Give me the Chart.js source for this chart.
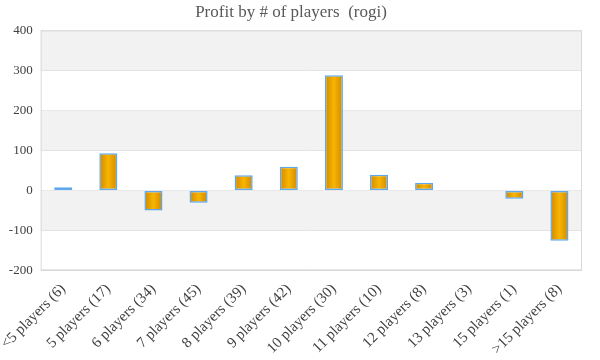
<!DOCTYPE html>
<html>
<head>
<meta charset="utf-8">
<script src="https://cdn.jsdelivr.net/npm/chart.js@4"></script>
<style>
  html, body { margin: 0; padding: 0; background: #fff; }
  #wrap { width: 600px; height: 360px; }
</style>
</head>
<body>
<div id="wrap"><canvas id="grafico" width="600" height="360"></canvas></div>
<script>
const categorias = ["<5 players (6)", "5 players (17)", "6 players (34)", "7 players (45)", "8 players (39)", "9 players (42)",
    "10 players (30)", "11 players (10)", "12 players (8)", "13 players (3)", "15 players (1)", ">15 players (8)"];
const lucro = [8, 93, -50, -31, 38, 59, 288, 39, 19, 1, -21, -126];
const ticksY = [-200, -100, 0, 100, 200, 300, 400];

const fonteSerif = "Georgia, 'Liberation Serif', 'DejaVu Serif', serif";

// faixas cinza alternadas no fundo do gráfico
const faixas = {
    id: 'faixas',
    beforeDatasetsDraw(chart) {
        const { ctx, chartArea, scales } = chart;
        ctx.save();
        ctx.fillStyle = '#f2f2f2';
        [[300, 400], [100, 200], [-100, 0]].forEach(([a, b]) => {
            const y1 = scales.y.getPixelForValue(b);
            const y2 = scales.y.getPixelForValue(a);
            ctx.fillRect(chartArea.left, y1, chartArea.right - chartArea.left, y2 - y1);
        });
        ctx.strokeStyle = '#d9d9d9';
        ctx.lineWidth = 1;
        ctx.beginPath();
        ctx.moveTo(chartArea.left + 0.5, chartArea.top);
        ctx.lineTo(chartArea.left + 0.5, chartArea.bottom);
        ctx.moveTo(chartArea.right - 0.5, chartArea.top);
        ctx.lineTo(chartArea.right - 0.5, chartArea.bottom);
        ctx.moveTo(chartArea.left, chartArea.bottom - 0.5);
        ctx.lineTo(chartArea.right, chartArea.bottom - 0.5);
        ctx.moveTo(chartArea.left, chartArea.top + 0.5);
        ctx.lineTo(chartArea.right, chartArea.top + 0.5);
        ctx.stroke();
        ctx.restore();
    }
};

function gradienteBarra(context) {
    const chart = context.chart;
    const escala = chart.scales.x;
    if (!chart.chartArea || !escala) return '#f0a800';
    const cx = escala.getPixelForValue(context.dataIndex);
    const w = (escala.width / categorias.length) * 0.4;
    const g = chart.ctx.createLinearGradient(cx - w / 2, 0, cx + w / 2, 0);
    g.addColorStop(0, '#d08800');
    g.addColorStop(0.5, '#f8b500');
    g.addColorStop(1, '#d08800');
    return g;
}

new Chart(document.getElementById('grafico'), {
    type: 'bar',
    data: {
        labels: categorias,
        datasets: [{
            data: lucro,
            backgroundColor: gradienteBarra,
            borderColor: '#5ea8ef',
            borderWidth: 1.5,
            borderSkipped: false,
            categoryPercentage: 1,
            barPercentage: 0.4
        }]
    },
    options: {
        responsive: false,
        animation: false,
        layout: { padding: { left: 0, right: 18, top: 0, bottom: 0 } },
        plugins: {
            legend: { display: false },
            tooltip: { enabled: false },
            title: {
                display: true,
                text: 'Profit by # of players  (rogi)',
                color: '#595959',
                font: { family: fonteSerif, size: 17, weight: 'normal' },
                padding: { top: 2, bottom: 8 }
            }
        },
        scales: {
            x: {
                grid: { display: false },
                border: { display: false },
                ticks: {
                    color: '#404040',
                    font: { family: fonteSerif, size: 15 },
                    maxRotation: 45,
                    minRotation: 45,
                    autoSkip: false,
                    padding: 2
                }
            },
            y: {
                min: -200,
                max: 400,
                afterBuildTicks(scale) { scale.ticks = ticksY.map(v => ({ value: v })); },
                grid: { color: '#d9d9d9', drawTicks: false },
                border: { display: false },
                ticks: {
                    color: '#404040',
                    font: { family: fonteSerif, size: 13 },
                    padding: 8
                }
            }
        }
    },
    plugins: [faixas]
});
</script>
</body>
</html>
